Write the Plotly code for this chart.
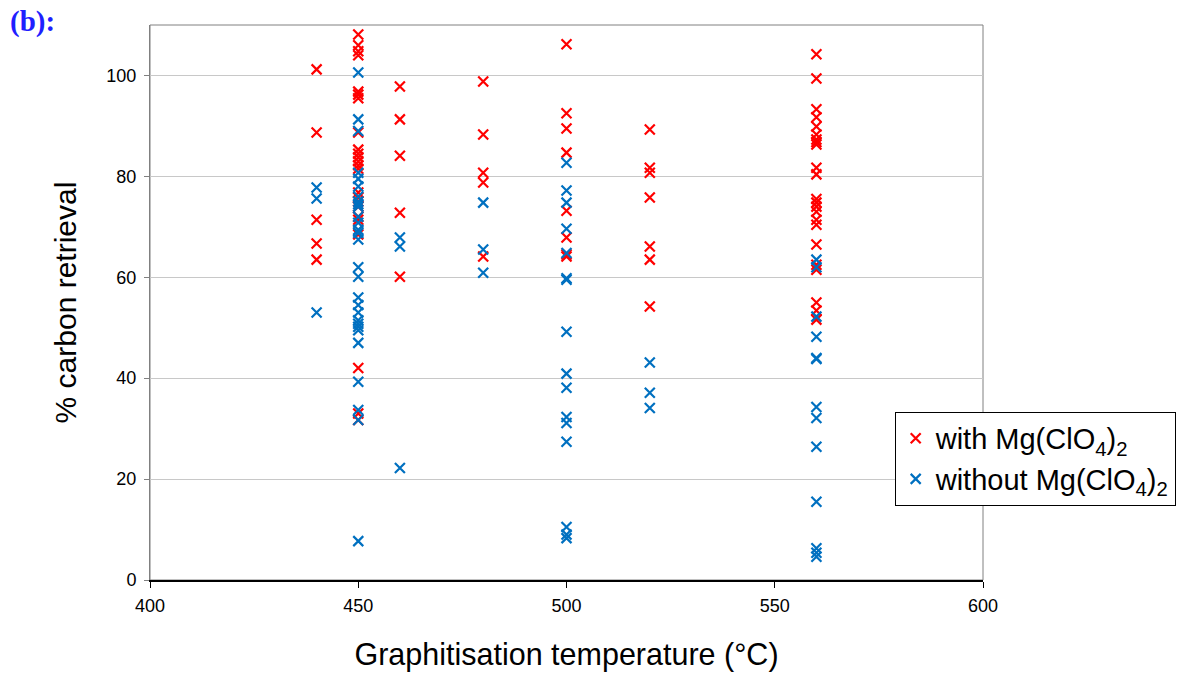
import plotly.graph_objects as go

# ---- data ----
with_temp = (
    [440] * 5
    + [450] * 24
    + [460] * 5
    + [480] * 5
    + [500] * 8
    + [520] * 7
    + [560] * 23
)
with_vals = (
    [101.2, 88.7, 71.4, 66.7, 63.5]
    + [108.1, 106.0, 104.8, 104.0, 96.8, 96.2, 95.5, 88.7, 85.3, 84.5, 83.8, 83.0,
       82.2, 81.5, 76.8, 75.8, 75.0, 74.0, 72.0, 71.4, 68.5, 42.0, 31.7, 33.0]
    + [97.8, 91.3, 84.1, 72.8, 60.1]
    + [98.8, 88.3, 80.7, 78.8, 64.1]
    + [106.2, 92.5, 89.5, 84.7, 73.2, 67.9, 64.1, 64.5]
    + [89.3, 81.7, 80.7, 75.8, 66.1, 63.5, 54.2]
    + [104.2, 99.4, 93.3, 91.7, 89.9, 88.3, 87.3, 86.3, 81.7, 80.4, 74.8, 74.0,
       73.0, 71.4, 70.4, 66.5, 62.5, 55.0, 53.4, 51.6, 61.5, 75.5, 86.8]
)

without_temp = (
    [440] * 3
    + [450] * 29
    + [460] * 3
    + [480] * 3
    + [500] * 16
    + [520] * 3
    + [560] * 13
)
without_vals = (
    [77.8, 75.6, 53.0]
    + [100.6, 91.3, 89.0, 80.7, 79.5, 78.0, 76.0, 75.0, 74.5, 74.0, 72.0, 70.8,
       69.4, 68.8, 67.5, 62.0, 60.1, 56.0, 54.5, 53.0, 51.5, 50.8, 50.2, 49.5,
       47.0, 39.3, 33.7, 31.7, 7.7]
    + [67.9, 66.1, 22.2]
    + [74.8, 65.5, 60.9]
    + [82.7, 77.2, 74.8, 69.6, 64.8, 59.5, 59.8, 49.2, 40.9, 38.1, 32.3, 31.1,
       27.4, 10.5, 8.3, 9.0]
    + [43.1, 37.1, 34.1]
    + [63.5, 62.0, 52.2, 48.2, 43.8, 34.3, 32.1, 26.4, 15.5, 6.3, 5.4, 4.6, 44.0]
)

x_ticks = [400, 450, 500, 550, 600]
y_ticks = [0, 20, 40, 60, 80, 100]

RED = "#FF0000"
BLUE = "#0070C0"

fig = go.Figure()
fig.add_trace(go.Scatter(
    x=with_temp, y=with_vals, mode="markers",
    name="with Mg(ClO<sub>4</sub>)<sub>2</sub>",
    marker=dict(symbol="x-thin", size=10, color=RED,
                line=dict(color=RED, width=2.2)),
))
fig.add_trace(go.Scatter(
    x=without_temp, y=without_vals, mode="markers",
    name="without Mg(ClO<sub>4</sub>)<sub>2</sub>",
    marker=dict(symbol="x-thin", size=10, color=BLUE,
                line=dict(color=BLUE, width=2.2)),
))

fig.update_layout(
    width=1192, height=673,
    margin=dict(l=150, r=209, t=25, b=93),
    paper_bgcolor="white", plot_bgcolor="white",
    font=dict(family="Liberation Sans, Arial", color="black"),
    showlegend=True,
    legend=dict(
        x=0.894, y=0.303, xanchor="left", yanchor="top",
        bordercolor="black", borderwidth=1, bgcolor="white",
        font=dict(size=29, family="Liberation Sans, Arial"),
        itemwidth=30, tracegroupgap=0,
    ),
    xaxis=dict(
        range=[400, 600], tickvals=x_ticks, ticktext=[str(v) for v in x_ticks],
        showgrid=False, zeroline=False, showline=True, linecolor="black",
        linewidth=1.5, ticks="outside", ticklen=6, tickcolor="black",
        tickfont=dict(size=18), ticklabelstandoff=3, automargin=False,
        title=dict(text="Graphitisation temperature (°C)", font=dict(size=30.5),
                   standoff=28),
    ),
    yaxis=dict(
        range=[0, 110], tickvals=y_ticks, ticktext=[str(v) for v in y_ticks],
        showgrid=True, gridcolor="#C8C8C8", gridwidth=1,
        zeroline=False, showline=True, linecolor="#808080", linewidth=1,
        ticks="outside", ticklen=5, tickcolor="#808080",
        tickfont=dict(size=18), ticklabelstandoff=4, automargin=False,
        title=dict(text="% carbon retrieval", font=dict(size=30), standoff=20),
    ),
    shapes=[dict(type="rect", xref="paper", yref="paper", x0=0, y0=0, x1=1, y1=1,
                 line=dict(color="#808080", width=1), layer="below")],
    annotations=[dict(
        text="<b>(b):</b>", xref="paper", yref="paper", x=-0.171, y=1.04,
        xanchor="left", yanchor="top", showarrow=False,
        font=dict(family="Liberation Serif, Times New Roman", size=29, color="#1F1FFF"),
    )],
)

fig.write_html("out.html")
